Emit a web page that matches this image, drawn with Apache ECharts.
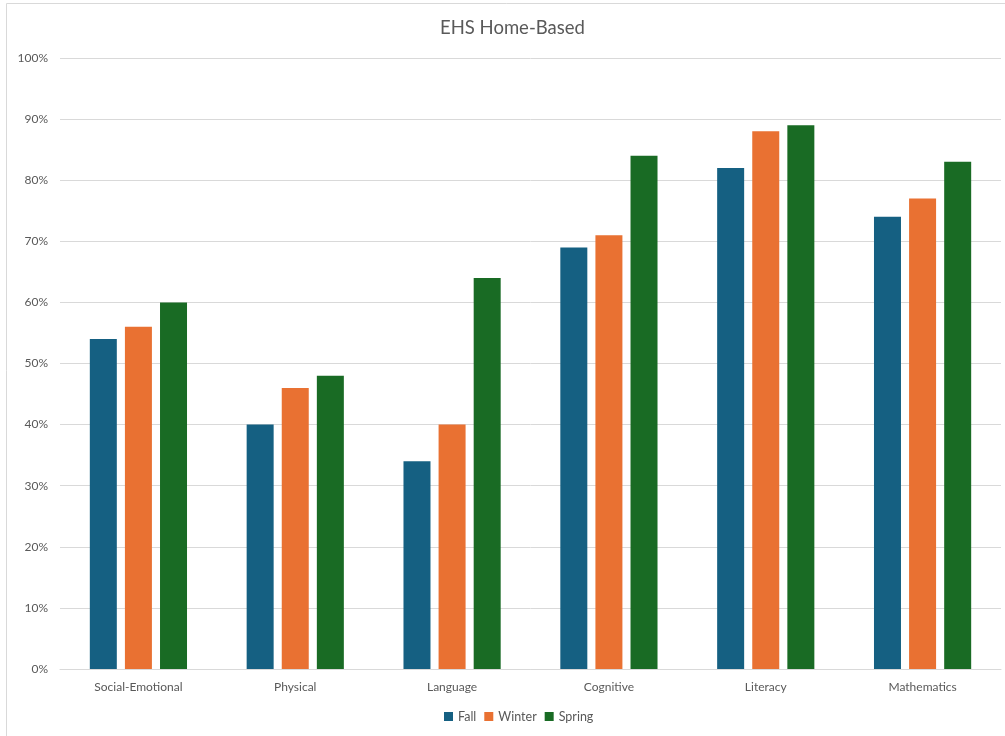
<!DOCTYPE html>
<html><head><meta charset="utf-8">
<script src="https://cdn.jsdelivr.net/npm/echarts@6/dist/echarts.min.js"></script>
<style>html,body{margin:0;padding:0;background:#fff}#c{width:1005px;height:736px}</style>
</head><body><div id="c"></div>
<script>
const categories = ['Social-Emotional','Physical','Language','Cognitive','Literacy','Mathematics'];
const fall = [54,40,34,69,82,74];
const winter = [56,46,40,71,88,77];
const spring = [60,48,64,84,89,83];
const yTicks = [0,10,20,30,40,50,60,70,80,90,100];

const font = 'Lato, "Noto Sans", sans-serif';
const chart = echarts.init(document.getElementById('c'));
const mk = (name, data, color) => ({name, type:'bar', data, itemStyle:{color}, barWidth:27, barGap:'30%'});
chart.setOption({
  animation:false,
  textStyle:{fontFamily:font},
  graphic:[{type:'rect', shape:{x:6.5,y:3.5,width:1010,height:745}, style:{fill:'none',stroke:'#d9d9d9',lineWidth:1}, silent:true}],
  title:{text:'EHS Home-Based', left:435, top:14, textStyle:{fontSize:18.5,fontWeight:'normal',color:'#595959',fontFamily:font}},
  legend:{bottom:8, left:439, itemWidth:9, itemHeight:9, itemGap:8, icon:'rect', textStyle:{fontSize:12.5,color:'#595959',fontFamily:font}},
  grid:{left:60, right:4, top:58, bottom:67, containLabel:false},
  xAxis:{type:'category', data:categories, axisTick:{show:false}, axisLine:{lineStyle:{color:'#d9d9d9',width:1}}, axisLabel:{color:'#595959',fontSize:12,margin:12,fontFamily:font}},
  yAxis:{type:'value', min:yTicks[0], max:yTicks[yTicks.length-1], interval:10, axisLabel:{formatter:'{value}%', color:'#595959', fontSize:12, margin:12, fontFamily:font}, splitLine:{lineStyle:{color:'#d9d9d9',width:1}}, axisLine:{show:false}, axisTick:{show:false}},
  series:[mk('Fall',fall,'#156082'), mk('Winter',winter,'#E97132'), mk('Spring',spring,'#196B24')]
});
</script></body></html>
